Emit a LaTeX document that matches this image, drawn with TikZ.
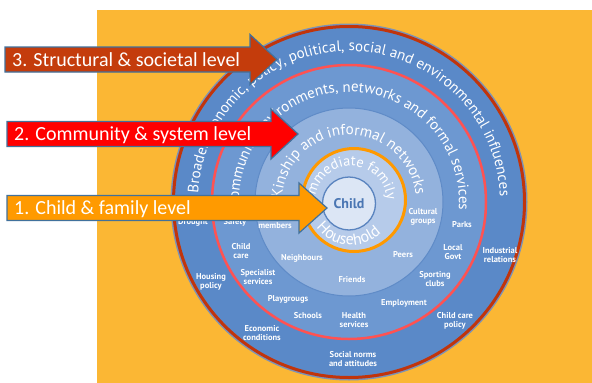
\documentclass[tikz,border=0pt]{standalone}
\usepackage{fontspec}
\setmainfont{PT Sans}
\newfontfamily\arrowfont{Carlito}
\usetikzlibrary{decorations.text,calc}
\definecolor{bgorange}{HTML}{FBB734}
\definecolor{outerband}{HTML}{5A89C8}
\definecolor{commband}{HTML}{6D98D1}
\definecolor{kinband}{HTML}{93B2DD}
\definecolor{kinedge}{HTML}{5F8BC7}
\definecolor{famband}{HTML}{B6CBEA}
\definecolor{childfill}{HTML}{DCE6F5}
\definecolor{childedge}{HTML}{5A84BF}
\definecolor{childtext}{HTML}{4A76B3}
\definecolor{ringdark}{HTML}{C1340B}
\definecolor{ringred}{HTML}{FF5252}
\definecolor{ringedge}{HTML}{7D92B5}
\definecolor{orangering}{HTML}{FF9900}
\definecolor{arrowedge}{HTML}{41719C}
\definecolor{arrowthree}{HTML}{C43C0C}
\definecolor{arrowtwo}{HTML}{FF0000}
\definecolor{arrowone}{HTML}{FF9A00}
\begin{document}
\begin{tikzpicture}[x=1pt,y=1pt,
  lbl/.style={text=white, font=\bfseries\fontsize{8.5}{9.5}\selectfont, align=center, inner sep=0pt},
  arrowtxt/.style={text=white, font=\arrowfont\fontsize{20}{24}\selectfont, anchor=base west, inner sep=0pt},
  arrowshape/.style={draw=arrowedge, line width=1.2pt, line join=miter},
  arctext/.style={decorate, decoration={text along path, text align=center, text color=white, text={#1}}}
]
\useasboundingbox (0,0) rectangle (592,-383);
\fill[white] (0,0) rectangle (592,-383);
\fill[bgorange] (97,-10) rectangle (592,-383);

\coordinate (C) at (349,-202);
% rings
\fill[ringedge] (C) circle (178.5);
\fill[outerband] (C) circle (177);
\draw[ringdark, line width=3pt] (C) circle (175.5);
\fill[commband] (C) circle (136);
\draw[ringred, line width=2.5pt] (C) circle (137);
\filldraw[fill=kinband, draw=kinedge, line width=1pt] (C) circle (94);
\filldraw[fill=famband, draw=orangering, line width=3pt] (354,-200) circle (51.5);
\coordinate (CC) at (349,-203.5);
\filldraw[fill=childfill, draw=childedge, line width=1.3pt] (CC) circle (26.5);
\node[font=\bfseries\fontsize{14}{14}\selectfont, text=childtext, inner sep=0pt] (child) at (CC) {Child};

% arc texts
\path[arctext={|\fontsize{15}{15}\selectfont|Broader economic, policy, political, social and environmental influences}]
  ($(C)+(200:151)$) arc[start angle=200, end angle=-21, radius=151];
\path[arctext={|\fontsize{15}{15}\selectfont|Community environments, networks and formal services}]
  ($(C)+(200:110)$) arc[start angle=200, end angle=-21, radius=110];
\path[arctext={|\fontsize{15.3}{15.3}\selectfont|Kinship and informal networks}]
  ($(C)+(200:67)$) arc[start angle=200, end angle=-17, radius=67];
\path[arctext={|\fontsize{14.5}{14.5}\selectfont|Immediate family}]
  ($(351,-202)+(190:36)$) arc[start angle=190, end angle=-10, radius=36];
\path[arctext={|\fontsize{16}{16}\selectfont|Household}]
  ($(351,-202)+(190:43)$) arc[start angle=190, end angle=341, radius=43];

% outer band labels
\node[lbl] (drought) at (193,-222) {Drought};
\node[lbl] (housing) at (211,-282) {Housing\\policy};
\node[lbl] (econ) at (262,-333) {Economic\\conditions};
\node[lbl] (social) at (353,-359) {Social norms\\and attitudes};
\node[lbl] (ccpolicy) at (455,-321) {Child care\\policy};
\node[lbl] (indus) at (500,-255) {Industrial\\relations};
% community band labels
\node[lbl] (safety) at (235,-222) {Safety};
\node[lbl] (childcare) at (241,-251) {Child\\care};
\node[lbl] (specialist) at (258,-277) {Specialist\\services};
\node[lbl] (playgroups) at (288,-299) {Playgrougs};
\node[lbl] (schools) at (308,-316) {Schools};
\node[lbl] (health) at (354,-320) {Health\\services};
\node[lbl] (employment) at (404,-303.5) {Employment};
\node[lbl] (sporting) at (435,-279) {Sporting\\clubs};
\node[lbl] (localgovt) at (453,-252) {Local\\Govt};
\node[lbl] (parks) at (462,-225) {Parks};
% kinship band labels
\node[lbl] (members) at (275,-226) {members};
\node[lbl] (neighbours) at (302,-258) {Neighbours};
\node[lbl] (friends) at (352,-280) {Friends};
\node[lbl] (peers) at (403,-255) {Peers};
\node[lbl] (cultural) at (423,-217) {Cultural\\groups};

% arrows
\filldraw[arrowshape, fill=arrowthree] (5,-47) -- (250,-47) -- (250,-34.5) -- (277,-59.5) -- (250,-84.5) -- (250,-72) -- (5,-72) -- cycle;
\node[arrowtxt] (lvlthree) at (12,-66) {3. Structural \& societal level};
\filldraw[arrowshape, fill=arrowtwo] (7,-121.5) -- (271,-121.5) -- (271,-109) -- (298,-134) -- (271,-159) -- (271,-146.5) -- (7,-146.5) -- cycle;
\node[arrowtxt] (lvltwo) at (14,-140.5) {2. Community \& system level};
\filldraw[arrowshape, fill=arrowone] (7,-195.5) -- (299,-195.5) -- (299,-183) -- (327,-208) -- (299,-233) -- (299,-220.5) -- (7,-220.5) -- cycle;
\node[arrowtxt] (lvlone) at (14,-214.5) {1. Child \& family level};
\end{tikzpicture}
\end{document}
